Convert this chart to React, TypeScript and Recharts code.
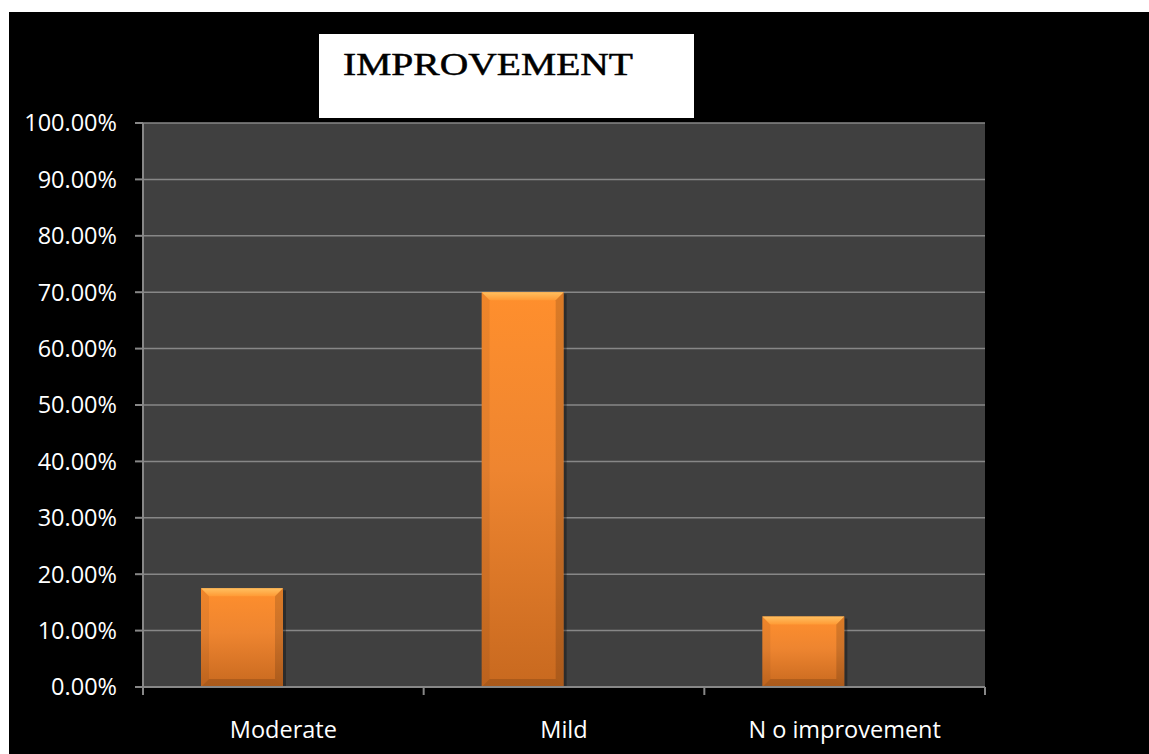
import React from 'react'
import { BarChart, Bar, XAxis, YAxis, CartesianGrid } from 'recharts'

// Share of patients per improvement grade
const categories = ['Moderate', 'Mild', 'N o improvement']
const improvementShare = [0.175, 0.7, 0.125]
// empty second series keeps the bars offset left inside each category, as in the sheet
const spacerSeries: (number | null)[] = [null, null, null]
const percentTicks = [0, 0.1, 0.2, 0.3, 0.4, 0.5, 0.6, 0.7, 0.8, 0.9, 1]

const rows = categories.map((name, i) => ({
  name,
  share: improvementShare[i],
  spacer: spacerSeries[i],
}))

const AXIS_GREY = '#878787'
const LABEL_FONT = '"Open Sans", sans-serif'

const formatPercent = (v: number) => `${(v * 100).toFixed(2)}%`

// Orange bar with a bevelled edge
const BevelBar = (props: any) => {
  const { x, y, width, height } = props
  if (!height || height <= 0) return null
  const b = Math.min(8, width / 4, height / 4)
  const r = x + width
  const btm = y + height
  return (
    <g>
      <rect x={r} y={y + 2} width={3} height={height - 2} fill="rgba(0,0,0,0.3)" />
      <rect x={x} y={y} width={width} height={height} fill="url(#barFace)" />
      {/* top bevel */}
      <polygon points={`${x},${y} ${r},${y} ${r - b},${y + b} ${x + b},${y + b}`} fill="url(#barTop)" />
      {/* left bevel */}
      <polygon points={`${x},${y} ${x + b},${y + b} ${x + b},${btm - b} ${x},${btm}`} fill="#000" fillOpacity={0.06} />
      {/* right bevel */}
      <polygon points={`${r},${y} ${r - b},${y + b} ${r - b},${btm - b} ${r},${btm}`} fill="#000" fillOpacity={0.14} />
      {/* bottom bevel */}
      <polygon points={`${x},${btm} ${x + b},${btm - b} ${r - b},${btm - b} ${r},${btm}`} fill="#000" fillOpacity={0.15} />
    </g>
  )
}

// Category label plus tick marks on the category boundaries
const CategoryTick = (props: any) => {
  const { x, y, width, payload, index, visibleTicksCount } = props
  const band = width / visibleTicksCount
  const left = x - band / 2
  return (
    <g>
      <line x1={left} y1={y} x2={left} y2={y + 8} stroke={AXIS_GREY} strokeWidth={2} />
      {index === visibleTicksCount - 1 && (
        <line x1={left + band} y1={y} x2={left + band} y2={y + 8} stroke={AXIS_GREY} strokeWidth={2} />
      )}
      <text x={x} y={y + 51} textAnchor="middle" fill="#FFFFFF" fontFamily={LABEL_FONT} fontSize={23.5}>
        {payload.value}
      </text>
    </g>
  )
}

export default function App() {
  return (
    <div style={{ position: 'absolute', left: 0, top: 0, width: 1149, height: 754, background: '#FFFFFF' }}>
      <div style={{ position: 'absolute', left: 9, top: 12, width: 1140, height: 742, background: '#000000' }}>
        <BarChart
          width={1140}
          height={742}
          data={rows}
          margin={{ top: 111, right: 164, bottom: 0, left: 0 }}
          barSize={82}
          barGap={0}
        >
          <defs>
            <linearGradient id="barFace" x1="0" y1="0" x2="0" y2="1">
              <stop offset="0%" stopColor="#FF8F2D" />
              <stop offset="45%" stopColor="#EE8530" />
              <stop offset="100%" stopColor="#C8691F" />
            </linearGradient>
            <linearGradient id="barTop" x1="0" y1="0" x2="0" y2="1">
              <stop offset="0%" stopColor="#FFC060" />
              <stop offset="100%" stopColor="#FF9A35" />
            </linearGradient>
          </defs>
          <CartesianGrid fill="#404040" vertical={false} stroke={AXIS_GREY} strokeWidth={1.5} />
          <XAxis
            dataKey="name"
            height={67}
            axisLine={{ stroke: AXIS_GREY, strokeWidth: 2 }}
            tickLine={false}
            tickSize={0}
            tickMargin={0}
            tick={<CategoryTick />}
            interval={0}
          />
          <YAxis
            width={134}
            domain={[0, 1]}
            ticks={percentTicks}
            tickFormatter={formatPercent}
            axisLine={{ stroke: AXIS_GREY, strokeWidth: 2 }}
            tickLine={{ stroke: AXIS_GREY, strokeWidth: 2 }}
            tickSize={8}
            tickMargin={18}
            tick={{ fill: '#FFFFFF', fontFamily: LABEL_FONT, fontSize: 23.5 }}
            interval={0}
          />
          <Bar dataKey="share" shape={<BevelBar />} isAnimationActive={false} />
          <Bar dataKey="spacer" fill="transparent" isAnimationActive={false} />
        </BarChart>
        <div style={{ position: 'absolute', left: 310, top: 22, width: 375, height: 84, background: '#FFFFFF' }}>
          <svg width={375} height={84}>
            <text
              x={24}
              y={41}
              fontFamily='"Liberation Serif", serif'
              fontSize={32}
              textLength={290}
              lengthAdjust="spacingAndGlyphs"
              fill="#000000"
              stroke="#000000"
              strokeWidth={0.5}
            >
              IMPROVEMENT
            </text>
          </svg>
        </div>
      </div>
    </div>
  )
}
